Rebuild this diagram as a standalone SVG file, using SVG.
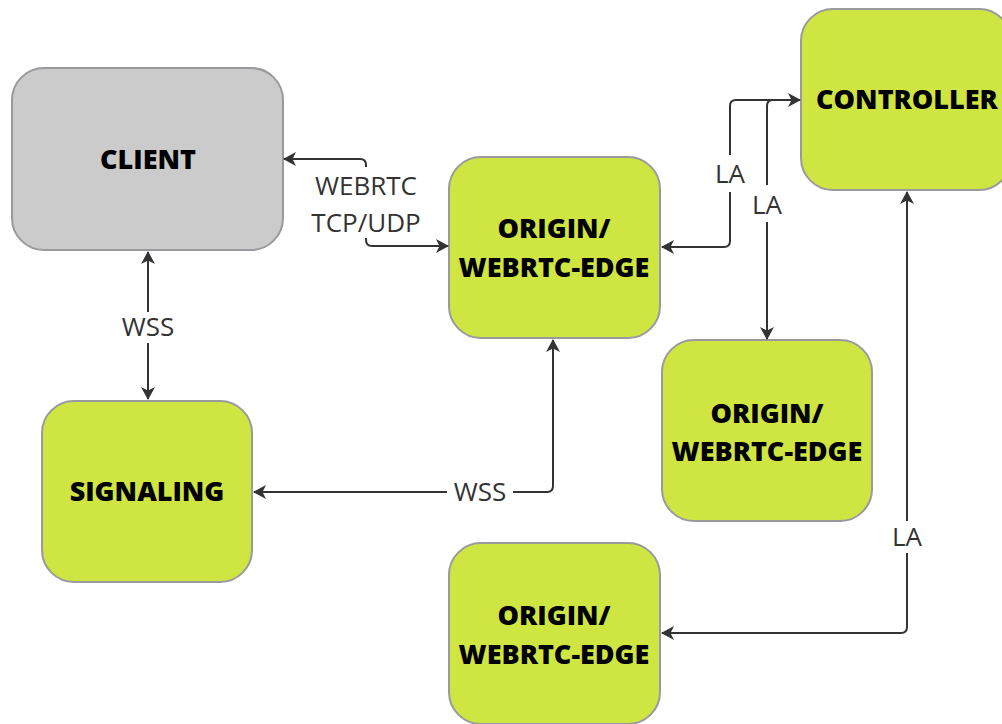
<svg xmlns="http://www.w3.org/2000/svg" width="1002" height="724" viewBox="0 0 1002 724">
<defs>
<marker id="ah" viewBox="0 0 13 14" refX="12" refY="7" markerWidth="13" markerHeight="14" markerUnits="userSpaceOnUse" orient="auto-start-reverse">
<path d="M0,0 L13,7 L0,14 L3.5,7 Z" fill="#333"/>
</marker>
<style>
.box{stroke:#9a9a9e;stroke-width:2}
.g{fill:#cfe642}
.c{fill:#cbcbcb}
.t{font-family:"Open Sans","Liberation Sans",sans-serif;font-weight:800;font-size:27px;fill:#000;text-anchor:middle}
.l{font-family:"Open Sans","Liberation Sans",sans-serif;font-size:26px;fill:#333;text-anchor:middle}
.e{fill:none;stroke:#333;stroke-width:2}
</style>
</defs>
<rect width="1002" height="724" fill="#fff"/>
<g id="client"><rect class="box c" x="12" y="68" width="271" height="182" rx="32"/><text class="t" x="148" y="169">CLIENT</text></g>
<g id="origin1"><rect class="box g" x="449" y="157" width="211" height="181" rx="32"/><text class="t" x="554" y="238">ORIGIN/</text><text class="t" x="554" y="277">WEBRTC-EDGE</text></g>
<g id="controller"><rect class="box g" x="801" y="9" width="210" height="181" rx="32"/><text class="t" x="907" y="109">CONTROLLER</text></g>
<g id="origin2"><rect class="box g" x="662" y="340" width="210" height="181" rx="32"/><text class="t" x="767" y="423">ORIGIN/</text><text class="t" x="767" y="461">WEBRTC-EDGE</text></g>
<g id="signaling"><rect class="box g" x="42" y="401" width="210" height="181" rx="32"/><text class="t" x="147" y="501">SIGNALING</text></g>
<g id="origin3"><rect class="box g" x="449" y="543" width="211" height="181" rx="32"/><text class="t" x="554" y="625">ORIGIN/</text><text class="t" x="554" y="664">WEBRTC-EDGE</text></g>
<g id="connectors">
<path class="e" d="M366,167 L366,165 Q366,159 360,159 L284,159" marker-end="url(#ah)"/>
<path class="e" d="M366,238 L366,240 Q366,246 372,246 L448,246" marker-end="url(#ah)"/>
<text class="l" x="366" y="195">WEBRTC</text>
<text class="l" x="366" y="232">TCP/UDP</text>
<path class="e" d="M148,252 L148,312" marker-start="url(#ah)"/>
<path class="e" d="M148,343 L148,399" marker-end="url(#ah)"/>
<text class="l" x="148" y="336">WSS</text>
<path class="e" d="M447,492 L254,492" marker-end="url(#ah)"/>
<path class="e" d="M513,492 L547,492 Q553,492 553,486 L553,340" marker-end="url(#ah)"/>
<text class="l" x="480" y="501">WSS</text>
<path class="e" d="M730,155 L730,106 Q730,100 736,100 L800,100" marker-end="url(#ah)"/>
<path class="e" d="M730,192 L730,241 Q730,247 724,247 L662,247" marker-end="url(#ah)"/>
<text class="l" x="730" y="183">LA</text>
<path class="e" d="M773,100 Q767,100 767,106 L767,185"/>
<path class="e" d="M767,222 L767,339" marker-end="url(#ah)"/>
<text class="l" x="767" y="214">LA</text>
<path class="e" d="M907,192 L907,521" marker-start="url(#ah)"/>
<path class="e" d="M907,553 L907,627 Q907,633 901,633 L662,633" marker-end="url(#ah)"/>
<text class="l" x="907" y="546">LA</text>
</g>
</svg>
